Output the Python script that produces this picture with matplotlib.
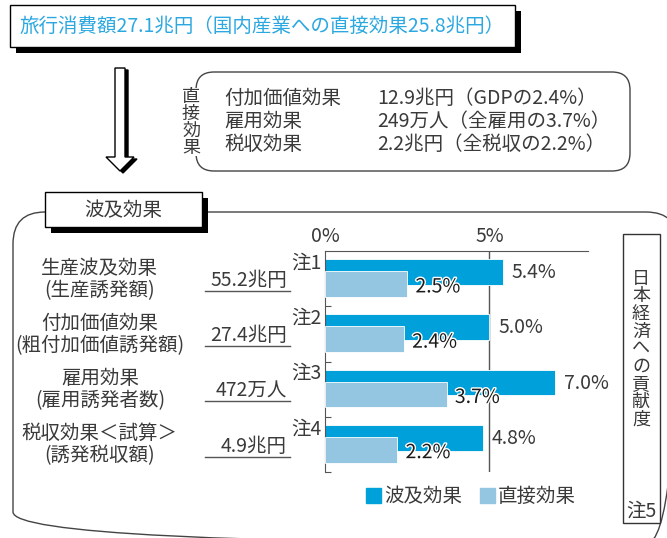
import matplotlib
matplotlib.use("Agg")
import matplotlib.pyplot as plt
import matplotlib.patheffects as pe
from matplotlib.patches import FancyBboxPatch, Rectangle, Polygon, Patch

plt.rcParams['font.family'] = ['Noto Sans CJK JP', 'DejaVu Sans']

# データ
HEADLINE = "旅行消費額27.1兆円（国内産業への直接効果25.8兆円）"
DIRECT_TITLE = "直接効果"
DIRECT_NAMES = ["付加価値効果", "雇用効果", "税収効果"]
DIRECT_VALUES = ["12.9兆円（GDPの2.4%）", "249万人（全雇用の3.7%）", "2.2兆円（全税収の2.2%）"]

SECTION_TITLE = "波及効果"
ITEMS = ["生産波及効果", "付加価値効果", "雇用効果", "税収効果＜試算＞"]
SUB_ITEMS = ["(生産誘発額)", "(粗付加価値誘発額)", "(雇用誘発者数)", "(誘発税収額)"]
AMOUNTS = ["55.2兆円", "27.4兆円", "472万人", "4.9兆円"]
NOTES = ["注1", "注2", "注3", "注4"]
RIPPLE = [5.4, 5.0, 7.0, 4.8]   # 波及効果 (%)
DIRECT = [2.5, 2.4, 3.7, 2.2]   # 直接効果 (%)
X_TICKS = [0, 5]
X_TICK_LABELS = ["0%", "5%"]
SERIES_NAMES = ["波及効果", "直接効果"]
SIDE_TITLE = "日本経済への貢献度"
SIDE_NOTE = "注5"

DARK = '#00A0DA'
LIGHT = '#94C6E2'
HEAD = '#2BA8E0'
TXT = '#3a3a3a'
LINE = '#555555'
FS = 14


def vertical(s):
    # 縦書き（1文字ずつ改行）
    return "\n".join(list(s))


fig = plt.figure(figsize=(6.67, 5.38), dpi=100)

# 背景の図形（ピクセル座標）
bg = fig.add_axes([0, 0, 1, 1])
bg.set_xlim(0, 667)
bg.set_ylim(538, 0)
bg.axis('off')

# 上の見出しボックス
bg.add_patch(Rectangle((16, 11), 505, 42, fc='black', ec='none'))
bg.add_patch(Rectangle((10, 5), 505, 42, fc='white', ec='black', lw=1))
bg.text(262, 26, HEADLINE, color=HEAD, fontsize=FS, ha='center', va='center')

# 下向きの矢印
arrow = [(115, 68), (125, 68), (125, 157), (134, 157), (120, 171), (106, 157), (115, 157)]
bg.add_patch(Polygon([(x + 3, y + 2) for x, y in arrow], closed=True, fc='black', ec='black', lw=1))
bg.add_patch(Polygon(arrow, closed=True, fc='white', ec='black', lw=1))

# 直接効果のボックス
bg.add_patch(FancyBboxPatch((196, 72), 434, 99, boxstyle="round,pad=0,rounding_size=18",
                            fc='white', ec='#444444', lw=1))
bg.add_patch(Rectangle((184, 88), 16, 68, fc='white', ec='none', zorder=3))
bg.text(191, 122.5, vertical(DIRECT_TITLE), fontsize=13, color=TXT, ha='center', va='center',
        linespacing=0.95, zorder=4)
for k in range(len(DIRECT_NAMES)):
    bg.text(224, 98 + 23.5 * k, DIRECT_NAMES[k], fontsize=FS, color=TXT, ha='left', va='center')
    bg.text(377, 98 + 23.5 * k, DIRECT_VALUES[k], fontsize=FS, color=TXT, ha='left', va='center')

# 波及効果の大きい枠
bg.add_patch(FancyBboxPatch((13, 212), 665, 332, boxstyle="round,pad=0,rounding_size=32",
                            fc='none', ec='#444444', lw=1))
bg.add_patch(Rectangle((51, 198), 157, 35, fc='black', ec='none'))
bg.add_patch(Rectangle((45, 192), 157, 35, fc='white', ec='black', lw=1))
bg.text(123, 210, SECTION_TITLE, fontsize=FS, color=TXT, ha='center', va='center')

# 右の縦書きボックス
bg.add_patch(Rectangle((623, 234), 37, 289, fc='white', ec='#333333', lw=1))
bg.text(641, 349, vertical(SIDE_TITLE), fontsize=13, color=TXT, ha='center', va='center',
        linespacing=0.97)
bg.text(641, 511, SIDE_NOTE, fontsize=FS, color=TXT, ha='center', va='center')

# 棒グラフ
ax = fig.add_axes([325 / 667, 1 - 472 / 538, (588 - 325) / 667, (472 - 251) / 538])
pos = list(range(len(ITEMS)))
ax.barh([p - 0.12 for p in pos], RIPPLE, height=0.47, color=DARK, edgecolor='white', lw=0.6, zorder=2)
ax.barh([p + 0.097 for p in pos], DIRECT, height=0.47, color=LIGHT, edgecolor='white', lw=0.6, zorder=3)
ax.axvline(5, color=LINE, lw=1, zorder=1)

halo = [pe.withStroke(linewidth=2, foreground='white')]
for i in pos:
    ax.text(RIPPLE[i] + 0.28, i - 0.11, "{:.1f}%".format(RIPPLE[i]), fontsize=FS, color=TXT,
            ha='left', va='center', zorder=5)
    ax.text(DIRECT[i] + 0.25, i + 0.15, "{:.1f}%".format(DIRECT[i]), fontsize=FS, color='#1a1a1a',
            ha='left', va='center', path_effects=halo, zorder=5)
    ax.text(-0.1, i - 0.28, NOTES[i], fontsize=FS, color=TXT, ha='right', va='center')

ax.set_xlim(0, 8)
ax.set_ylim(3.5, -0.5)
ax.xaxis.tick_top()
ax.set_xticks(X_TICKS, X_TICK_LABELS)
ax.tick_params(axis='x', length=0, pad=3, labelsize=FS, labelcolor=TXT)
ax.set_yticks([0.5, 1.5, 2.5, 3.5])
ax.tick_params(axis='y', direction='in', length=4, color=LINE, labelleft=False)
ax.spines['right'].set_visible(False)
ax.spines['bottom'].set_visible(False)
ax.spines['top'].set_color(LINE)
ax.spines['left'].set_color(LINE)
ax.patch.set_alpha(0)

# 左側のラベル
trans = ax.get_yaxis_transform()
for i in pos:
    ax.text(-0.856, i - 0.19, ITEMS[i], transform=trans, fontsize=FS, color=TXT, ha='center', va='center')
    ax.text(-0.856, i + 0.21, SUB_ITEMS[i], transform=trans, fontsize=FS, color=TXT, ha='center', va='center')
    ax.text(-0.145, i + 0.03, AMOUNTS[i], transform=trans, fontsize=FS, color=TXT, ha='right', va='center')
    ax.plot([-0.456, -0.133], [i + 0.22, i + 0.22], transform=trans, color=LINE, lw=1, clip_on=False)

handles = [Patch(color=DARK), Patch(color=LIGHT)]
ax.legend(handles, SERIES_NAMES, loc='center', bbox_to_anchor=(0.555, -0.113), ncol=2, frameon=False,
          fontsize=FS, handlelength=0.8, handleheight=0.8, handletextpad=0.15, columnspacing=0.9,
          labelcolor=TXT)

fig.savefig('out.png', dpi=100)
